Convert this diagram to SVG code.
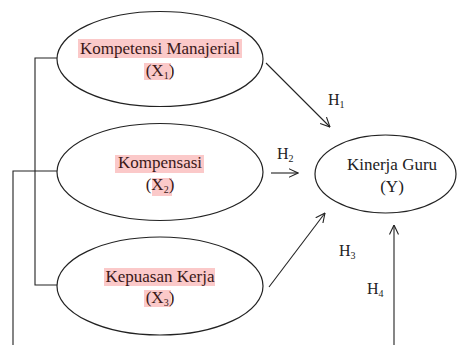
<svg xmlns="http://www.w3.org/2000/svg" width="457" height="345" viewBox="0 0 457 345">
<style>
  text { font-family: "Liberation Serif", "Times New Roman", serif; fill: #222; }
  .t { font-size: 17px; text-anchor: middle; }
  .hl-t { fill: #3a1818; }
  .lbl { font-size: 16px; }
  .sub { font-size: 10px; }
  .hl { fill: #fbc9c9; }
  .node { fill: #fff; stroke: #222; stroke-width: 1.2; }
  .conn { fill: none; stroke: #222; stroke-width: 1.1; }
</style>
<defs>
  <marker id="arr" viewBox="0 0 10 10" refX="9.5" refY="5" markerWidth="10" markerHeight="10" markerUnits="userSpaceOnUse" orient="auto">
    <path d="M0,0.5 L9.5,5 L0,9.5" fill="none" stroke="#222" stroke-width="1.1"/>
  </marker>
</defs>
<rect width="457" height="345" fill="#fff"/>

<g id="connectors">
  <polyline class="conn" points="57,58 35,58 35,285 57,285"/>
  <polyline class="conn" points="57,171 13,171 13,345"/>
  <line class="conn" x1="266" y1="63" x2="330" y2="127" marker-end="url(#arr)"/>
  <line class="conn" x1="271" y1="173" x2="298" y2="173" marker-end="url(#arr)"/>
  <line class="conn" x1="269" y1="287" x2="325" y2="213" marker-end="url(#arr)"/>
  <line class="conn" x1="394" y1="345" x2="394" y2="225" marker-end="url(#arr)"/>
</g>

<g id="node-x1">
  <ellipse class="node" cx="160" cy="59" rx="103" ry="47.5"/>
  <rect class="hl" x="78" y="39" width="164" height="19"/>
  <rect class="hl" x="144" y="63" width="27" height="17"/>
  <text class="t hl-t" x="160" y="54">Kompetensi Manajerial</text>
  <text class="t hl-t" x="160" y="76">(X<tspan class="sub" dy="3">1</tspan><tspan dy="-3">)</tspan></text>
</g>

<g id="node-x2">
  <ellipse class="node" cx="160" cy="172" rx="103" ry="48.5"/>
  <rect class="hl" x="115" y="155" width="89" height="18"/>
  <rect class="hl" x="152" y="178" width="20" height="18"/>
  <text class="t hl-t" x="160" y="168">Kompensasi</text>
  <text class="t hl-t" x="160" y="190">(X<tspan class="sub" dy="3">2</tspan><tspan dy="-3">)</tspan></text>
</g>

<g id="node-x3">
  <ellipse class="node" cx="160" cy="286" rx="103" ry="49"/>
  <rect class="hl" x="104" y="268" width="111" height="18"/>
  <rect class="hl" x="144" y="290" width="27" height="17"/>
  <text class="t hl-t" x="160" y="282">Kepuasan Kerja</text>
  <text class="t hl-t" x="160" y="303">(X<tspan class="sub" dy="3">3</tspan><tspan dy="-3">)</tspan></text>
</g>

<g id="node-y">
  <ellipse class="node" cx="385.5" cy="174" rx="70.5" ry="39"/>
  <text class="t" x="392" y="170">Kinerja Guru</text>
  <text class="t" x="392" y="192">(Y)</text>
</g>

<g id="labels">
  <text class="lbl" x="328" y="105">H<tspan class="sub" dy="3">1</tspan></text>
  <text class="lbl" x="277" y="159">H<tspan class="sub" dy="3">2</tspan></text>
  <text class="lbl" x="339" y="256">H<tspan class="sub" dy="3">3</tspan></text>
  <text class="lbl" x="367" y="294">H<tspan class="sub" dy="3">4</tspan></text>
</g>
</svg>
